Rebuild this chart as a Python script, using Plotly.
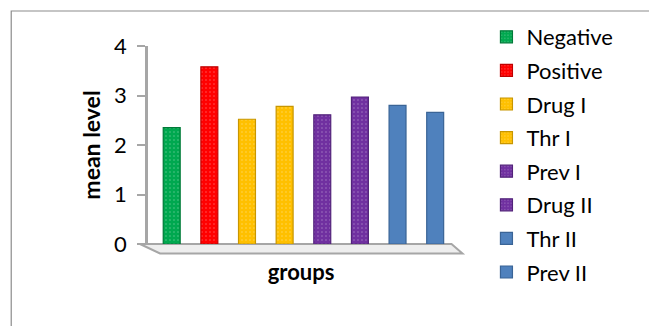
import plotly.graph_objects as go

# Group means
groups = ["Negative", "Positive", "Drug I", "Thr I", "Prev I", "Drug II", "Thr II", "Prev II"]
mean_level = [2.35, 3.58, 2.52, 2.78, 2.61, 2.97, 2.80, 2.66]
colors = ["#00A84F", "#FF0000", "#FFC000", "#FFC000", "#7030A0", "#7030A0", "#4F81BD", "#4F81BD"]
edge_colors = ["#007A38", "#C00000", "#C89600", "#C89600", "#52227A", "#52227A", "#3A6496", "#3A6496"]
dotted = [True, True, True, True, True, True, False, False]

FONT = "Lato"

fig = go.Figure()
for i, (g, v) in enumerate(zip(groups, mean_level)):
    marker = dict(color=colors[i], line=dict(color=edge_colors[i], width=1.2))
    if dotted[i]:
        marker["pattern"] = dict(shape=".", fillmode="overlay", fgcolor="white",
                                 fgopacity=0.35, size=4, solidity=0.12)
    fig.add_trace(go.Bar(
        x=[g], y=[v], name=g, width=0.45, marker=marker,
        legendgroup=g,
    ))

# plot-area geometry helpers (pixels -> paper units)
L, R, T, B = 148, 454.5, 46, 244
W, H = R - L, B - T
px = lambda x: (x - L) / W
py = lambda y: (B - y) / H

shapes = [
    # floor of the chart
    dict(type="path", xref="paper", yref="paper",
         path=f"M{px(140)},{py(244)} L{px(452)},{py(244)} L{px(463)},{py(253.5)} "
              f"L{px(160)},{py(253.5)} Z",
         fillcolor="#EEEEEE", line=dict(color="#A6A6A6", width=2), layer="below"),
    # outer chart border (left and top)
    dict(type="path", xref="paper", yref="paper",
         path=f"M{px(11)},{py(340)} L{px(11)},{py(11)} L{px(660)},{py(11)}",
         line=dict(color="#8C8C8C", width=1.2)),
]

fig.update_layout(
    width=649, height=326,
    margin=dict(l=L, r=649 - R, t=T, b=326 - B),
    paper_bgcolor="white", plot_bgcolor="rgba(0,0,0,0)",
    barmode="overlay",
    font=dict(family=FONT, color="black", size=22),
    showlegend=True,
    legend=dict(x=px(487), y=py(16), xanchor="left", yanchor="top",
                font=dict(family=FONT, size=22, color="black"),
                tracegroupgap=2, itemwidth=30, bgcolor="rgba(0,0,0,0)",
                maxheight=400),
    shapes=shapes,
)
fig.update_xaxes(
    categoryorder="array", categoryarray=groups,
    range=[-0.63, 7.5], showticklabels=False, ticks="", showline=False,
    showgrid=False, zeroline=False,
    title=dict(text="groups", font=dict(family=FONT, size=22, weight="bold"), standoff=20),
)
fig.update_yaxes(
    range=[0, 4], dtick=1, ticks="outside", ticklen=8, tickwidth=1.5, tickcolor="#A6A6A6",
    showline=True, linecolor="#A6A6A6", linewidth=2.5, showgrid=False, zeroline=False,
    tickfont=dict(family=FONT, size=22), ticklabelstandoff=6,
    title=dict(text="mean level", font=dict(family=FONT, size=23, weight="bold"), standoff=8),
)

fig.write_html("out.html")
